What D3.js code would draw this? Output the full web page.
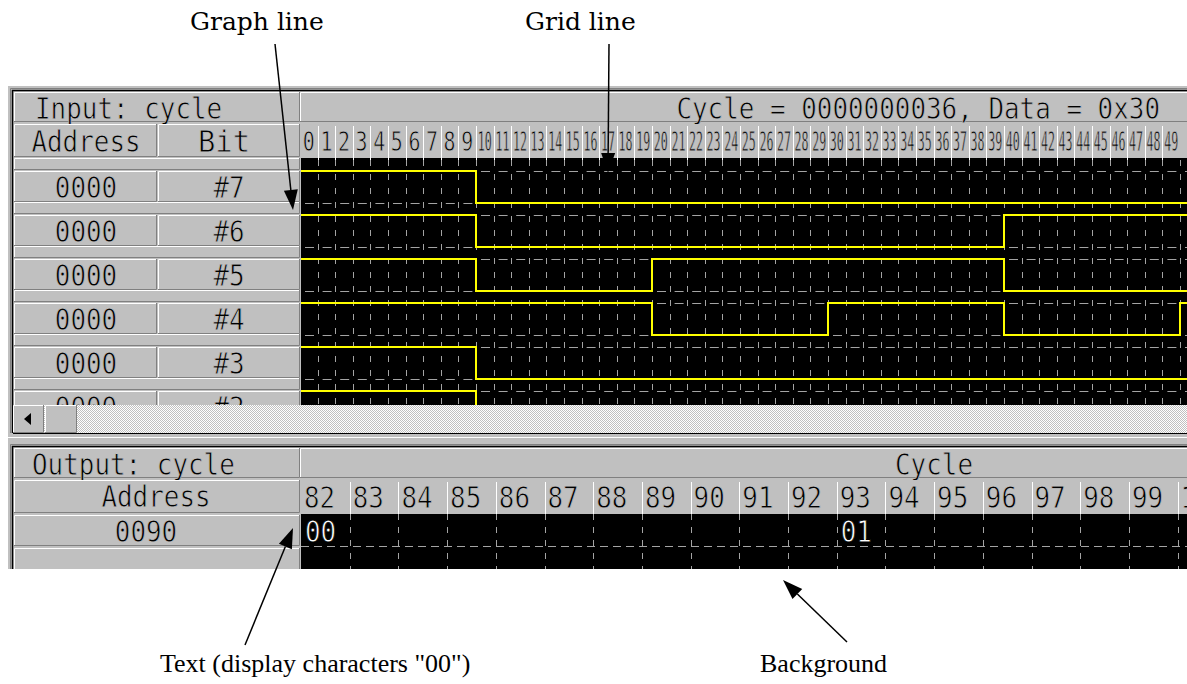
<!DOCTYPE html>
<html>
<head>
<meta charset="utf-8">
<script src="https://cdn.jsdelivr.net/npm/d3@7"></script>
<style>
body { margin: 0; background: #fff; }
</style>
</head>
<body>
<svg width="1187" height="684"></svg>
<script>
// ---- data ----
var inputTicks = [0,1,2,3,4,5,6,7,8,9,10,11,12,13,14,15,16,17,18,19,20,21,22,23,24,
                  25,26,27,28,29,30,31,32,33,34,35,36,37,38,39,40,41,42,43,44,45,46,47,48,49];
var bitNames = ["#7", "#6", "#5", "#4", "#3", "#2"];
var bitIndex = [7, 6, 5, 4, 3, 2];
var bitAddress = ["0000", "0000", "0000", "0000", "0000", "0000"];
// input data changes every 10 cycles
var segStart = [0, 10, 20, 30, 40, 50];
var segData  = [0xFF, 0x10, 0x20, 0x30, 0x40, 0x50];

var outputTicks = [82,83,84,85,86,87,88,89,90,91,92,93,94,95,96,97,98,99,100];
var outAddress = ["0090"];
var outCycles = [82, 93];
var outText = ["00", "01"];

var inputTitle = "Input: cycle";
var inputStatus = "Cycle = 0000000036, Data = 0x30";
var outputTitle = "Output: cycle";

var svg = d3.select("svg");

var x = d3.scaleLinear().domain([0, 50]).range([300, 1180]);
var xo = d3.scaleLinear().domain([82, 100]).range([301, 1177.6]);
var rowTop = d3.scaleLinear().domain([0, 1]).range([158, 202]);
function hiY(i) { return rowTop(i) + 13; }
function loY(i) { return rowTop(i) + 45; }

var GRID = "#a4a4a4";
var CHW = 15.6; // width of one monospace cell

function bevel(g, x0, y0, x1, y1) {
  g.append("rect").attr("x", x0).attr("y", y0).attr("width", x1 - x0).attr("height", y1 - y0)
    .attr("fill", "#c0c0c0");
  g.append("path").attr("d", "M" + (x0 + .5) + "," + y1 + "V" + (y0 + .5) + "H" + x1)
    .attr("stroke", "#fff").attr("fill", "none");
  g.append("path").attr("d", "M" + x0 + "," + (y1 - .5) + "H" + (x1 - .5) + "V" + y0)
    .attr("stroke", "#808080").attr("fill", "none");
}

// thin glyphs: black fill eroded by a background-coloured stroke
function mono(g, s, px, py, anchor, opts) {
  opts = opts || {};
  return g.append("text")
    .attr("x", px).attr("y", py)
    .attr("text-anchor", anchor || "start")
    .attr("font-family", "'DejaVu Sans Mono', monospace")
    .attr("font-size", opts.size || 30)
    .attr("fill", opts.fill || "#000")
    .attr("stroke", opts.stroke || "#c0c0c0")
    .attr("stroke-width", 0.8)
    .attr("textLength", opts.w || s.length * CHW)
    .attr("lengthAdjust", "spacingAndGlyphs")
    .text(s);
}

// ---- window frame ----
svg.append("rect").attr("x", 8).attr("y", 86).attr("width", 1179).attr("height", 483).attr("fill", "#c0c0c0");
svg.append("path").attr("d", "M10.5,433V88.5H1187").attr("stroke", "#808080").attr("fill", "none");
svg.append("path").attr("d", "M12.5,433V90.5H1187").attr("stroke", "#000").attr("stroke-width", 1.5).attr("fill", "none");
svg.append("path").attr("d", "M10.5,569V444.5H1187").attr("stroke", "#808080").attr("fill", "none");
svg.append("path").attr("d", "M12.5,569V446.5H1187").attr("stroke", "#000").attr("stroke-width", 1.5).attr("fill", "none");
svg.append("line").attr("x1", 8).attr("x2", 1187).attr("y1", 437.5).attr("y2", 437.5).attr("stroke", "#fff");

// ---- input panel ----
var inp = svg.append("g");
bevel(inp, 14, 92, 300, 122);
bevel(inp, 300, 92, 1200, 122);
mono(inp, inputTitle, 35, 119, "start");
mono(inp, inputStatus, 1160, 119, "end");

bevel(inp, 14, 124, 157, 157);
bevel(inp, 158, 124, 300, 157);
mono(inp, "Address", 86, 152, "middle");
mono(inp, "Bit", 224, 152, "middle", {w: 52});

inp.append("rect").attr("x", 300).attr("y", 124).attr("width", 900).attr("height", 34).attr("fill", "#c0c0c0");

// plot background
inp.append("rect").attr("x", 301).attr("y", 158).attr("width", 900).attr("height", 247).attr("fill", "#000");

svg.append("clipPath").attr("id", "inclip").append("rect")
  .attr("x", 301).attr("y", 158).attr("width", 900).attr("height", 247);
svg.append("clipPath").attr("id", "leftclip").append("rect")
  .attr("x", 0).attr("y", 150).attr("width", 300).attr("height", 255);

// tick label cells
inp.selectAll(".tsep").data(inputTicks.slice(1)).enter().append("line")
  .attr("x1", function(d) { return Math.round(x(d)) + .5; })
  .attr("x2", function(d) { return Math.round(x(d)) + .5; })
  .attr("y1", 126).attr("y2", 166)
  .attr("stroke", "#fff");
inputTicks.forEach(function(d) {
  var s = String(d);
  mono(inp, s, x(d + 0.5), 151, "middle", {size: 27, w: s.length > 1 ? 14 : 12});
});

// left label rows
var left = inp.append("g").attr("clip-path", "url(#leftclip)");
bitNames.forEach(function(b, i) {
  bevel(left, 14, rowTop(i), 300, hiY(i) - 1);
  bevel(left, 14, hiY(i), 157, loY(i) - 1);
  bevel(left, 158, hiY(i), 300, loY(i) - 1);
  mono(left, bitAddress[i], 86, hiY(i) + 27, "middle");
  mono(left, b, 229, hiY(i) + 27, "middle");
});

// grid
var plot = inp.append("g").attr("clip-path", "url(#inclip)");
plot.selectAll(".vg").data(inputTicks.slice(1).concat([50])).enter().append("line")
  .attr("x1", function(d) { return Math.round(x(d)) + .5; })
  .attr("x2", function(d) { return Math.round(x(d)) + .5; })
  .attr("y1", 160).attr("y2", 405)
  .attr("stroke", GRID).attr("stroke-dasharray", "6,8");
bitNames.forEach(function(b, i) {
  [hiY(i), loY(i)].forEach(function(yy) {
    plot.append("line").attr("x1", 301).attr("x2", 1187)
      .attr("y1", yy + .5).attr("y2", yy + .5)
      .attr("stroke", GRID).attr("stroke-dasharray", "9,8.6").attr("stroke-dashoffset", -4);
  });
});

// signal lines
var line = d3.line()
  .x(function(d) { return x(d.c); })
  .y(function(d) { return d.y; })
  .curve(d3.curveStepAfter);
bitIndex.forEach(function(bit, i) {
  var pts = segStart.map(function(c, k) {
    var on = (segData[k] >> bit) & 1;
    return {c: c, y: on ? hiY(i) : loY(i)};
  });
  pts.push({c: 53, y: pts[pts.length - 1].y});
  plot.append("path").attr("d", line(pts))
    .attr("fill", "none").attr("stroke", "#ffff00").attr("stroke-width", 2);
});

// scrollbar
var pat = svg.append("defs").append("pattern").attr("id", "dither")
  .attr("width", 2).attr("height", 2).attr("patternUnits", "userSpaceOnUse");
pat.append("rect").attr("width", 2).attr("height", 2).attr("fill", "#fff");
pat.append("rect").attr("width", 1).attr("height", 1).attr("fill", "#c0c0c0");
pat.append("rect").attr("x", 1).attr("y", 1).attr("width", 1).attr("height", 1).attr("fill", "#c0c0c0");
svg.append("rect").attr("x", 13).attr("y", 405).attr("width", 1180).attr("height", 28).attr("fill", "url(#dither)");
svg.append("line").attr("x1", 13).attr("x2", 1187).attr("y1", 433.5).attr("y2", 433.5).attr("stroke", "#000");
bevel(svg, 13, 405, 44, 433);
bevel(svg, 45, 405, 77, 433);
svg.append("path").attr("d", "M24,419L31,413V425Z").attr("fill", "#000");

// ---- output panel ----
var outp = svg.append("g");
bevel(outp, 14, 448, 300, 478);
bevel(outp, 300, 448, 1200, 478);
mono(outp, outputTitle, 32, 475, "start");
mono(outp, "Cycle", 934, 475, "middle");

bevel(outp, 14, 480, 300, 513);
mono(outp, "Address", 156, 507, "middle");
outp.append("rect").attr("x", 300).attr("y", 480).attr("width", 900).attr("height", 34).attr("fill", "#c0c0c0");

bevel(outp, 14, 515, 300, 546);
mono(outp, outAddress[0], 146, 542, "middle");
bevel(outp, 14, 548, 300, 575);

outp.append("rect").attr("x", 301).attr("y", 514).attr("width", 900).attr("height", 55).attr("fill", "#000");

outp.selectAll(".osep").data(outputTicks.slice(1)).enter().append("line")
  .attr("x1", function(d) { return Math.round(xo(d)) + .5; })
  .attr("x2", function(d) { return Math.round(xo(d)) + .5; })
  .attr("y1", 482).attr("y2", 514)
  .attr("stroke", "#fff");
outputTicks.forEach(function(d) {
  mono(outp, String(d), xo(d) + 3, 508, "start", {w: String(d).length * 15.6});
});
outp.selectAll(".ovg").data(outputTicks.slice(1)).enter().append("line")
  .attr("x1", function(d) { return Math.round(xo(d)) + .5; })
  .attr("x2", function(d) { return Math.round(xo(d)) + .5; })
  .attr("y1", 514).attr("y2", 569)
  .attr("stroke", GRID).attr("stroke-dasharray", "6,7");
outp.append("line").attr("x1", 301).attr("x2", 1187).attr("y1", 546.5).attr("y2", 546.5)
  .attr("stroke", GRID).attr("stroke-dasharray", "8,5");
outCycles.forEach(function(c, k) {
  mono(outp, outText[k], xo(c) + 4, 542, "start", {fill: "#fff", stroke: "#000"});
});

// white below window
svg.append("rect").attr("x", 0).attr("y", 569).attr("width", 1187).attr("height", 115).attr("fill", "#fff");

// ---- annotations ----
function note(s, px, py, family, size) {
  svg.append("text").attr("x", px).attr("y", py)
    .attr("font-family", family).attr("font-size", size)
    .attr("fill", "#000").text(s);
}
function arrow(x1, y1, x2, y2) {
  var a = Math.atan2(y2 - y1, x2 - x1), L = 20, W = 7;
  var bx = x2 - L * Math.cos(a), by = y2 - L * Math.sin(a);
  svg.append("line").attr("x1", x1).attr("y1", y1).attr("x2", bx).attr("y2", by)
    .attr("stroke", "#000").attr("stroke-width", 1.5);
  svg.append("path")
    .attr("d", "M" + x2 + "," + y2 +
      "L" + (bx + W * Math.sin(a)) + "," + (by - W * Math.cos(a)) +
      "L" + (bx - W * Math.sin(a)) + "," + (by + W * Math.cos(a)) + "Z")
    .attr("fill", "#000");
}
note("Graph line", 190, 30, "'DejaVu Serif', serif", 25);
note("Grid line", 525, 30, "'DejaVu Serif', serif", 25);
note("Text (display characters \"00\")", 160, 672, "'Liberation Serif', serif", 26);
note("Background", 760, 672, "'Liberation Serif', serif", 26);
arrow(275, 44, 293, 210);
arrow(609, 44, 608, 173);
arrow(245, 645, 293, 528);
arrow(847, 642, 783, 580);
</script>
</body>
</html>
